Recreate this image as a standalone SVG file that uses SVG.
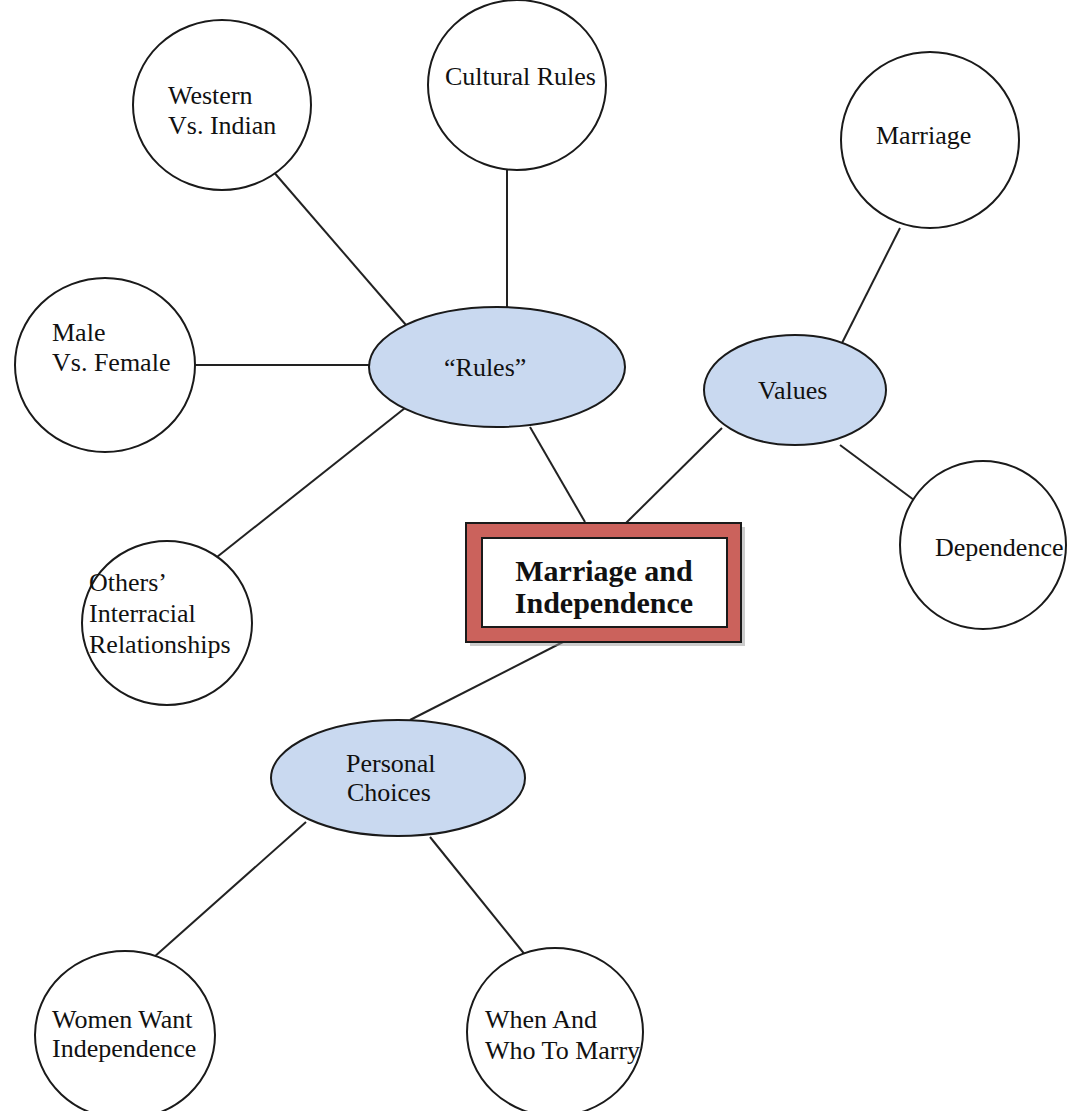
<svg xmlns="http://www.w3.org/2000/svg" width="1071" height="1111" viewBox="0 0 1071 1111">
  <style>
    .leaf { fill: #ffffff; stroke: #1a1a1a; stroke-width: 2; }
    .hub { fill: #c9d9f0; stroke: #1a1a1a; stroke-width: 2; }
    .lbl { font-family: "Liberation Serif", "Times New Roman", serif; font-size: 26px; fill: #111111; }
    .title { font-family: "Liberation Serif", "Times New Roman", serif; font-size: 30px; font-weight: bold; fill: #111111; }
    .link { stroke: #222222; stroke-width: 2; fill: none; }
  </style>

  <rect width="1071" height="1111" fill="#ffffff"/>

  <g id="connectors">
    <line class="link" x1="272" y1="170" x2="406" y2="325"/>
    <line class="link" x1="507" y1="170" x2="507" y2="308"/>
    <line class="link" x1="195" y1="365" x2="369" y2="365"/>
    <line class="link" x1="217" y1="557" x2="405" y2="408"/>
    <line class="link" x1="530" y1="427" x2="585" y2="522"/>
    <line class="link" x1="722" y1="428" x2="626" y2="523"/>
    <line class="link" x1="900" y1="228" x2="840" y2="347"/>
    <line class="link" x1="840" y1="445" x2="918" y2="503"/>
    <line class="link" x1="563" y1="642" x2="410" y2="720"/>
    <line class="link" x1="306" y1="822" x2="153" y2="958"/>
    <line class="link" x1="430" y1="837" x2="526" y2="956"/>
  </g>

  <g id="western-vs-indian">
    <ellipse class="leaf" cx="222" cy="105" rx="89" ry="85"/>
    <text class="lbl" x="168" y="104">Western</text>
    <text class="lbl" x="168" y="134">Vs. Indian</text>
  </g>

  <g id="cultural-rules">
    <ellipse class="leaf" cx="517" cy="85" rx="89" ry="85"/>
    <text class="lbl" x="445" y="85">Cultural Rules</text>
  </g>

  <g id="marriage">
    <ellipse class="leaf" cx="930" cy="140" rx="89" ry="88"/>
    <text class="lbl" x="876" y="144">Marriage</text>
  </g>

  <g id="male-vs-female">
    <ellipse class="leaf" cx="105" cy="365" rx="90" ry="87"/>
    <text class="lbl" x="52" y="341">Male</text>
    <text class="lbl" x="52" y="371">Vs. Female</text>
  </g>

  <g id="rules">
    <ellipse class="hub" cx="497" cy="367" rx="128" ry="60"/>
    <text class="lbl" x="444" y="376">“Rules”</text>
  </g>

  <g id="values">
    <ellipse class="hub" cx="795" cy="390" rx="91" ry="55"/>
    <text class="lbl" x="758" y="399">Values</text>
  </g>

  <g id="dependence">
    <ellipse class="leaf" cx="983" cy="545" rx="83" ry="84"/>
    <text class="lbl" x="935" y="556">Dependence</text>
  </g>

  <g id="others-interracial">
    <ellipse class="leaf" cx="167" cy="623" rx="85" ry="82"/>
    <text class="lbl" x="89" y="591">Others’</text>
    <text class="lbl" x="89" y="622">Interracial</text>
    <text class="lbl" x="89" y="653">Relationships</text>
  </g>

  <g id="marriage-and-independence">
    <rect x="468" y="525" width="275" height="119" fill="#9a9a9a" opacity="0.5" transform="translate(2,2)"/>
    <rect x="466" y="523" width="275" height="119" fill="#cb625c" stroke="#1a1a1a" stroke-width="2"/>
    <rect x="482" y="538" width="245" height="89" fill="#ffffff" stroke="#1a1a1a" stroke-width="2"/>
    <text class="title" x="604" y="581" text-anchor="middle">Marriage and</text>
    <text class="title" x="604" y="613" text-anchor="middle">Independence</text>
  </g>

  <g id="personal-choices">
    <ellipse class="hub" cx="398" cy="778" rx="127" ry="58"/>
    <text class="lbl" x="346" y="772">Personal</text>
    <text class="lbl" x="347" y="801">Choices</text>
  </g>

  <g id="women-want-independence">
    <ellipse class="leaf" cx="125" cy="1035" rx="90" ry="84"/>
    <text class="lbl" x="52" y="1028">Women Want</text>
    <text class="lbl" x="52" y="1057">Independence</text>
  </g>

  <g id="when-and-who">
    <ellipse class="leaf" cx="555" cy="1032" rx="88" ry="84"/>
    <text class="lbl" x="485" y="1028">When And</text>
    <text class="lbl" x="485" y="1059">Who To Marry</text>
  </g>
</svg>
